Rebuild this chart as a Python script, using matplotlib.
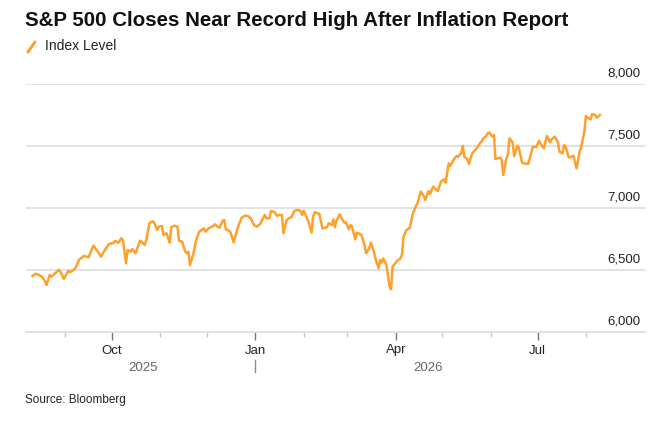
import matplotlib
matplotlib.use("Agg")
import matplotlib.pyplot as plt
import matplotlib.dates as mdates
import matplotlib.transforms as mtransforms
from matplotlib.lines import Line2D
from matplotlib.ticker import FixedLocator
import pandas as pd

# closes (approx.)
dates = [
    "2025-08-11", "2025-08-13", "2025-08-15", "2025-08-17", "2025-08-19", "2025-08-20",
    "2025-08-22", "2025-08-23", "2025-08-26", "2025-08-28", "2025-08-30", "2025-08-31",
    "2025-09-03", "2025-09-04", "2025-09-07", "2025-09-08", "2025-09-10", "2025-09-12",
    "2025-09-13", "2025-09-16", "2025-09-19", "2025-09-22", "2025-09-24", "2025-09-26",
    "2025-09-29", "2025-10-02", "2025-10-03", "2025-10-05", "2025-10-07", "2025-10-08",
    "2025-10-10", "2025-10-11", "2025-10-13", "2025-10-14", "2025-10-16", "2025-10-17",
    "2025-10-19", "2025-10-20", "2025-10-22", "2025-10-23", "2025-10-25", "2025-10-27",
    "2025-10-28", "2025-10-30", "2025-10-31", "2025-11-02", "2025-11-03", "2025-11-05",
    "2025-11-07", "2025-11-08", "2025-11-10", "2025-11-12", "2025-11-13", "2025-11-15",
    "2025-11-17", "2025-11-18", "2025-11-19", "2025-11-20", "2025-11-22", "2025-11-24",
    "2025-11-26", "2025-11-29", "2025-11-30", "2025-12-02", "2025-12-05", "2025-12-06",
    "2025-12-08", "2025-12-09", "2025-12-11", "2025-12-12", "2025-12-13", "2025-12-15",
    "2025-12-16", "2025-12-18", "2025-12-19", "2025-12-21", "2025-12-23", "2025-12-25",
    "2025-12-27", "2025-12-29", "2025-12-31", "2026-01-02", "2026-01-04", "2026-01-07",
    "2026-01-08", "2026-01-10", "2026-01-11", "2026-01-13", "2026-01-15", "2026-01-16",
    "2026-01-18", "2026-01-19", "2026-01-21", "2026-01-23", "2026-01-24", "2026-01-26",
    "2026-01-28", "2026-01-30", "2026-01-31", "2026-02-01", "2026-02-04", "2026-02-06",
    "2026-02-07", "2026-02-08", "2026-02-10", "2026-02-11", "2026-02-13", "2026-02-15",
    "2026-02-16", "2026-02-17", "2026-02-19", "2026-02-20", "2026-02-21", "2026-02-22",
    "2026-02-24", "2026-02-26", "2026-02-27", "2026-02-28", "2026-03-02", "2026-03-03",
    "2026-03-04", "2026-03-06", "2026-03-07", "2026-03-09", "2026-03-10", "2026-03-12",
    "2026-03-13", "2026-03-15", "2026-03-16", "2026-03-18", "2026-03-19", "2026-03-21",
    "2026-03-22", "2026-03-23", "2026-03-24", "2026-03-26", "2026-03-28", "2026-03-29",
    "2026-03-30", "2026-04-01", "2026-04-02", "2026-04-04", "2026-04-05", "2026-04-06",
    "2026-04-08", "2026-04-10", "2026-04-12", "2026-04-14", "2026-04-15", "2026-04-17",
    "2026-04-19", "2026-04-20", "2026-04-22", "2026-04-23", "2026-04-25", "2026-04-26",
    "2026-04-28", "2026-04-30", "2026-05-02", "2026-05-03", "2026-05-05", "2026-05-06",
    "2026-05-08", "2026-05-10", "2026-05-11", "2026-05-13", "2026-05-14", "2026-05-15",
    "2026-05-17", "2026-05-18", "2026-05-20", "2026-05-21", "2026-05-23", "2026-05-25",
    "2026-05-26", "2026-05-27", "2026-05-29", "2026-05-30", "2026-05-31", "2026-06-02",
    "2026-06-03", "2026-06-04", "2026-06-07", "2026-06-08", "2026-06-09", "2026-06-11",
    "2026-06-12", "2026-06-13", "2026-06-15", "2026-06-16", "2026-06-18", "2026-06-19",
    "2026-06-21", "2026-06-22", "2026-06-25", "2026-06-28", "2026-06-29", "2026-06-30",
    "2026-07-02", "2026-07-03", "2026-07-05", "2026-07-07", "2026-07-09", "2026-07-10",
    "2026-07-12", "2026-07-14", "2026-07-15", "2026-07-17", "2026-07-18", "2026-07-19",
    "2026-07-21", "2026-07-22", "2026-07-24", "2026-07-26", "2026-07-28", "2026-07-29",
    "2026-07-31", "2026-08-01", "2026-08-02", "2026-08-04", "2026-08-05", "2026-08-07",
    "2026-08-08", "2026-08-10",
]
levels = [
    6452, 6470, 6460, 6446, 6411, 6379,
    6460, 6446, 6478, 6502, 6460, 6427,
    6494, 6481, 6508, 6527, 6586, 6602,
    6615, 6602, 6696, 6648, 6607, 6653,
    6710, 6718, 6734, 6720, 6756, 6740,
    6554, 6661, 6648, 6669, 6635, 6667,
    6736, 6728, 6702, 6742, 6877, 6893,
    6882, 6823, 6849, 6855, 6782, 6796,
    6720, 6845, 6857, 6849, 6736, 6728,
    6648, 6635, 6648, 6540, 6621, 6742,
    6809, 6836, 6809, 6836, 6855, 6869,
    6845, 6841, 6898, 6903, 6828, 6817,
    6804, 6723, 6769, 6855, 6917, 6938,
    6936, 6917, 6863, 6849, 6871, 6944,
    6917, 6917, 6976, 6970, 6936, 6944,
    6944, 6796, 6903, 6922, 6925, 6976,
    6984, 6976, 6944, 6978, 6890, 6801,
    6930, 6965, 6957, 6952, 6836, 6841,
    6849, 6877, 6863, 6909, 6845, 6898,
    6949, 6903, 6882, 6885, 6828, 6863,
    6849, 6748, 6801, 6790, 6782, 6702,
    6635, 6675, 6720, 6648, 6594, 6514,
    6581, 6559, 6594, 6540, 6371, 6344,
    6527, 6559, 6575, 6594, 6621, 6769,
    6823, 6840, 6957, 7016, 7038, 7132,
    7097, 7065, 7137, 7113, 7172, 7159,
    7137, 7212, 7231, 7204, 7360, 7339,
    7387, 7419, 7414, 7441, 7502, 7414,
    7393, 7355, 7441, 7454, 7482, 7522,
    7535, 7557, 7581, 7603, 7607, 7575,
    7589, 7395, 7406, 7387, 7266, 7401,
    7433, 7562, 7530, 7419, 7502, 7486,
    7369, 7360, 7355, 7494, 7494, 7490,
    7541, 7514, 7482, 7581, 7530, 7554,
    7575, 7530, 7454, 7441, 7508, 7494,
    7409, 7409, 7422, 7320, 7454, 7494,
    7615, 7742, 7728, 7715, 7758, 7750,
    7728, 7750,
]
y_ticks = [6000, 6500, 7000, 7500, 8000]
month_ticks = pd.date_range("2025-09-01", "2026-08-01", freq="MS")

title = "S&P 500 Closes Near Record High After Inflation Report"
series_name = "Index Level"
source = "Source: Bloomberg"

ORANGE = "#FFA02C"
GRID = "#e2e2e2"

plt.rcParams["font.family"] = ["Liberation Sans", "DejaVu Sans"]

s = pd.Series(levels, index=pd.to_datetime(dates))

W, H = 666, 422
fig = plt.figure(figsize=(W / 100, H / 100), dpi=100)
# axes box in pixels: left 25.5, right 645, bottom line at y=332, 8000 line at y=84
ax = fig.add_axes([25.5 / W, (H - 332) / H, (645 - 25.5) / W, (332 - 84) / H])

ax.plot(s.index, s.values, color=ORANGE, lw=1.8, solid_joinstyle="round", zorder=3)

ax.set_ylim(6000, 8000)
ax.set_xlim(pd.Timestamp("2025-08-06 12:00"), pd.Timestamp("2026-09-07 22:00"))

ax.set_yticks(y_ticks)
ax.yaxis.grid(True, color=GRID, lw=1.4)
ax.tick_params(axis="y", length=0, labelleft=False)
lab_tr = mtransforms.offset_copy(
    mtransforms.blended_transform_factory(ax.transAxes, ax.transData),
    fig=fig, x=0, y=4, units="dots")
for v in y_ticks:
    ax.text(0.992, v, f"{v:,}", transform=lab_tr, ha="right", va="bottom",
            fontsize=9.5, color="#222222")

for side in ["left", "right", "top"]:
    ax.spines[side].set_visible(False)
ax.spines["bottom"].set_color(GRID)
ax.spines["bottom"].set_linewidth(1.4)

ax.xaxis.set_major_locator(mdates.MonthLocator(bymonth=[1, 4, 7, 10]))
ax.xaxis.set_major_formatter(mdates.DateFormatter("%b"))
ax.xaxis.set_minor_locator(FixedLocator(mdates.date2num(month_ticks)))
ax.tick_params(axis="x", which="major", length=6, width=1, color="#7a7a7a",
               labelsize=9.5, labelcolor="#222222", pad=3)
ax.tick_params(axis="x", which="minor", length=3.5, width=1, color="#c8c8c8")
ax.set_axisbelow(True)

# year labels, centred on the span of data inside each year
for yr in sorted(set(s.index.year)):
    part = s[s.index.year == yr]
    mid = part.index.min() + (part.index.max() - part.index.min()) / 2
    ax.annotate(str(yr), xy=(mid, 0), xycoords=("data", "axes fraction"),
                xytext=(0, -36), textcoords="offset pixels", ha="center", va="center",
                fontsize=9.5, color="#666666")
# divider at the year boundary
bound = mtransforms.blended_transform_factory(ax.transData, fig.transFigure)
ax.add_line(Line2D([mdates.date2num(pd.Timestamp("2026-01-01"))] * 2,
                   [(H - 360) / H, (H - 372) / H], transform=bound,
                   color="#8a8a8a", lw=1, clip_on=False))

fig.text(25 / W, 1 - 20 / H, title, fontsize=14.8, fontweight="bold",
         ha="left", va="center", color="#111111")
fig.add_artist(Line2D([28 / W, 35 / W], [1 - 52 / H, 1 - 42 / H],
                      color=ORANGE, lw=2.2, solid_capstyle="round"))
fig.text(45 / W, 1 - 46 / H, series_name, fontsize=10, ha="left", va="center",
         color="#222222")
fig.text(25 / W, 1 - 400 / H, source, fontsize=8.5, ha="left", va="center",
         color="#222222")

fig.savefig("out.png", dpi=100, facecolor="white")
